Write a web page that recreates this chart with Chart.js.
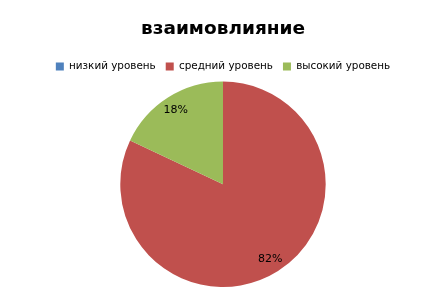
<!DOCTYPE html>
<html lang="ru">
<head>
    <meta charset="UTF-8">
    <title>взаимовлияние</title>
    <style>
        html, body { margin: 0; padding: 0; background: #ffffff; }
        .grafico-container { width: 446px; height: 294px; }
    </style>
</head>
<body>
    <div class="grafico-container">
        <canvas id="grafico"></canvas>
    </div>

    <script src="https://cdn.jsdelivr.net/npm/chart.js"></script>
    <script>
        // Dados do gráfico
        const categorias = ['низкий уровень', 'средний уровень', 'высокий уровень'];
        const valores = [0, 82, 18];
        const cores = ['#4F81BD', '#C0504D', '#9BBB59'];

        // Rótulos de porcentagem dentro das fatias
        const rotulosPlugin = {
            id: 'rotulos',
            afterDatasetsDraw(chart) {
                const ctx = chart.ctx;
                const meta = chart.getDatasetMeta(0);
                const total = valores.reduce((a, b) => a + b, 0);
                ctx.save();
                ctx.font = '11px "DejaVu Sans"';
                ctx.fillStyle = '#000000';
                ctx.textAlign = 'center';
                ctx.textBaseline = 'middle';
                meta.data.forEach((arc, i) => {
                    if (!valores[i]) return;
                    const p = arc.getProps(['x', 'y', 'startAngle', 'endAngle', 'outerRadius'], true);
                    const meio = (p.startAngle + p.endAngle) / 2;
                    const r = p.outerRadius * 0.86;
                    const texto = Math.round(valores[i] / total * 100) + '%';
                    ctx.fillText(texto, p.x + Math.cos(meio) * r, p.y + Math.sin(meio) * r);
                });
                ctx.restore();
            }
        };

        const ctx = document.getElementById('grafico').getContext('2d');
        new Chart(ctx, {
            type: 'pie',
            data: {
                labels: categorias,
                datasets: [{
                    data: valores,
                    backgroundColor: cores,
                    borderWidth: 0
                }]
            },
            options: {
                responsive: true,
                maintainAspectRatio: false,
                animation: false,
                layout: { padding: { bottom: 7 } },
                plugins: {
                    title: {
                        display: true,
                        text: 'взаимовлияние',
                        color: '#000000',
                        font: { family: 'DejaVu Sans', size: 18.5, weight: 'bold' },
                        padding: { top: 18, bottom: 11 }
                    },
                    legend: {
                        position: 'top',
                        labels: {
                            color: '#000000',
                            font: { family: 'DejaVu Sans', size: 10.4 },
                            boxWidth: 8,
                            boxHeight: 8,
                            padding: 10
                        }
                    },
                    tooltip: { enabled: false }
                }
            },
            plugins: [rotulosPlugin]
        });
    </script>
</body>
</html>
